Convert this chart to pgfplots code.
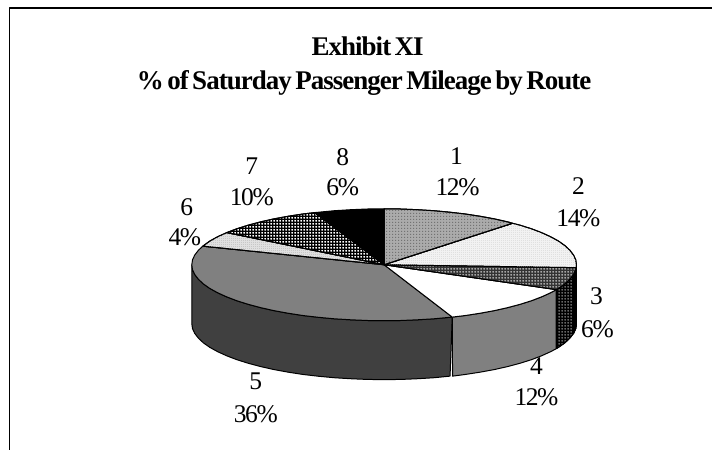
\documentclass[border=0pt]{standalone}
\usepackage{fontspec}
\setmainfont{Liberation Serif}
\newfontfamily\titlefam[WordSpace=0.6,LetterSpace=-3.6]{Liberation Serif}
\newfontfamily\labelfam[LetterSpace=-5.5]{Liberation Serif}
\usepackage{pgfplots}
\pgfplotsset{compat=1.18}
\usetikzlibrary{patterns}
\pgfdeclarepatternformonly{gridp}{\pgfqpoint{0pt}{0pt}}{\pgfqpoint{3pt}{3pt}}{\pgfqpoint{3pt}{3pt}}{%
  \pgfpathrectangle{\pgfqpoint{0pt}{0pt}}{\pgfqpoint{3pt}{1.3pt}}%
  \pgfpathrectangle{\pgfqpoint{0pt}{0pt}}{\pgfqpoint{1.3pt}{3pt}}%
  \pgfusepath{fill}}
\pgfdeclarepatternformonly{dotsp}{\pgfqpoint{0pt}{0pt}}{\pgfqpoint{3pt}{3pt}}{\pgfqpoint{3pt}{3pt}}{%
  \pgfpathrectangle{\pgfqpoint{0pt}{0pt}}{\pgfqpoint{1.2pt}{1.2pt}}%
  \pgfusepath{fill}}
\pgfdeclarepatternformonly{finep}{\pgfqpoint{0pt}{0pt}}{\pgfqpoint{2pt}{2pt}}{\pgfqpoint{2pt}{2pt}}{%
  \pgfpathrectangle{\pgfqpoint{0pt}{0pt}}{\pgfqpoint{1pt}{1pt}}%
  \pgfusepath{fill}}
\definecolor{g40}{HTML}{404040}
\definecolor{g80}{HTML}{808080}
\newcommand{\titlefont}{\titlefam\bfseries\fontsize{27}{27}\selectfont}
\newcommand{\lab}[3]{\node[anchor=base,font=\labelfam\fontsize{25.5}{25.5}\selectfont] at (axis cs:#1,#2) {#3};}
\begin{document}
\begin{tikzpicture}
\begin{axis}[hide axis,scale only axis,width=713pt,height=450pt,
  xmin=0,xmax=713,ymin=0,ymax=450,y dir=reverse,clip=false,
  every axis plot/.append style={line width=1pt,line join=round}]
% canvas
\addplot[fill=white,draw=none] coordinates {(0,0)(713,0)(713,450)(0,450)} --cycle;
% frame
\addplot[black,line width=1.4pt] coordinates {(9.7,450) (9.7,8) (713,8)};
% side of slice 5
\addplot[fill=g40,draw=black] coordinates {(192,265)(192.7,269.9)(194.9,274.7)(198.6,279.5)(203.6,284.2)(210,288.7)(217.8,293)(226.8,297.1)(237,301)(248.4,304.6)(260.8,307.9)(274.1,310.9)(288.25,313.5)(303.1,315.8)(318.7,317.6)(334.7,319.1)(351.1,320.1)(367.7,320.8)(384.5,321)(401.3,320.8)(417.9,320.1)(434.3,319.1)(450.3,317.6)(452.7,317.4)(450.5,376.5)(434.3,378.1)(417.9,379.1)(401.3,379.8)(384.5,380)(367.7,379.8)(351.1,379.1)(334.7,378.1)(318.7,376.6)(303.1,374.8)(288.25,372.5)(274.1,369.9)(260.8,366.9)(248.4,363.6)(237,360)(226.8,356.1)(217.8,352)(210,347.7)(203.6,343.2)(198.6,338.5)(194.9,333.7)(192.7,328.9)(192,324)} --cycle;
% side of slice 4
\addplot[fill=g80,draw=black] coordinates {(452.7,317.4)(465.9,315.8)(480.75,313.5)(494.9,310.9)(508.2,307.9)(520.6,304.6)(532,301)(542.2,297.1)(551.2,293)(557,289.9)(557,348.9)(551.2,352)(542.2,356.1)(532,360)(520.6,363.6)(508.2,366.9)(494.9,369.9)(480.75,372.5)(465.9,374.8)(453,376.5)} --cycle;
% side of slice 3
\addplot[fill=black!60,draw=black,postaction={pattern=gridp,pattern color=black}] coordinates {(557,289.9)(559,288.7)(565.4,284.2)(570.4,279.5)(574.1,274.7)(576.3,269.9)(577,265)(577,324)(576.3,328.9)(574.1,333.7)(570.4,338.5)(565.4,343.2)(559,347.7)(557,348.9)} --cycle;
% black sliver at the right edge
\addplot[fill=black,draw=black] coordinates {(577,265)(576.3,269.9)(574.1,274.7)(574.1,333.7)(576.3,328.9)(577,324)} --cycle;
% top, slice 5
\addplot[fill=g80,draw=black] coordinates {(384.5,265)(203,246.4)(198.6,250.5)(194.9,255.3)(192.7,260.1)(192,265)(192.7,269.9)(194.9,274.7)(198.6,279.5)(203.6,284.2)(210,288.7)(217.8,293)(226.8,297.1)(237,301)(248.4,304.6)(260.8,307.9)(274.1,310.9)(288.25,313.5)(303.1,315.8)(318.7,317.6)(334.7,319.1)(351.1,320.1)(367.7,320.8)(384.5,321)(401.3,320.8)(417.9,320.1)(434.3,319.1)(450.3,317.6)(452.7,317.4)} --cycle;
% top, slice 4
\addplot[fill=white,draw=black] coordinates {(384.5,265)(452.7,317.4)(465.9,315.8)(480.75,313.5)(494.9,310.9)(508.2,307.9)(520.6,304.6)(532,301)(542.2,297.1)(551.2,293)(557,289.9)} --cycle;
% top, slice 3
\addplot[fill=black!35,draw=black,postaction={pattern=gridp,pattern color=black!80}] coordinates {(384.5,265)(557,289.9)(559,288.7)(565.4,284.2)(570.4,279.5)(574.1,274.7)(576.3,269.9)(576.7,267.9)} --cycle;
% top, slice 2
\addplot[fill=black!5,draw=black,postaction={pattern=finep,pattern color=black!12}] coordinates {(384.5,265)(576.7,267.9)(577,265)(576.3,260.1)(574.1,255.3)(570.4,250.5)(565.4,245.8)(559,241.3)(551.2,237)(542.2,232.9)(532,229)(520.6,225.4)(513,223.5)} --cycle;
% top, slice 1
\addplot[fill=black!33,draw=black,postaction={pattern=dotsp,pattern color=black!55}] coordinates {(384.5,265)(513,223.5)(508.2,222.1)(494.9,219.1)(480.75,216.5)(465.9,214.2)(450.3,212.4)(434.3,210.9)(417.9,209.9)(401.3,209.2)(384.5,209)} --cycle;
% top, slice 6
\addplot[fill=black!12,draw=black,postaction={pattern=finep,pattern color=black!22}] coordinates {(384.5,265)(203,246.4)(210,241.3)(217.8,237)(227,232.8)} --cycle;
% top, slice 7
\addplot[fill=white,draw=black,postaction={pattern=gridp,pattern color=black}] coordinates {(384.5,265)(227,232.8)(237,229)(248.4,225.4)(260.8,222.1)(274.1,219.1)(288.25,216.5)(303.1,214.2)(315,212.8)} --cycle;
% top, slice 8
\addplot[fill=black,draw=black] coordinates {(384.5,265)(315,212.8)(334.7,210.9)(351.1,209.9)(367.7,209.2)(384.5,209)} --cycle;
% title
\node[anchor=base,font=\titlefont] at (axis cs:368,56) {Exhibit XI};
\node[anchor=base,font=\titlefont] at (axis cs:364.5,90) {\% of Saturday Passenger Mileage by Route};
% labels
\lab{457}{165}{1}\lab{458}{196}{12\%}
\lab{579}{195}{2}\lab{579}{227}{14\%}
\lab{597}{305}{3}\lab{598}{338}{6\%}
\lab{537}{375}{4}\lab{537}{406}{12\%}
\lab{256}{390}{5}\lab{256}{423}{36\%}
\lab{187}{216}{6}\lab{185}{246}{4\%}
\lab{252}{175}{7}\lab{252}{206}{10\%}
\lab{343}{166}{8}\lab{343}{196}{6\%}
\end{axis}
\end{tikzpicture}
\end{document}
